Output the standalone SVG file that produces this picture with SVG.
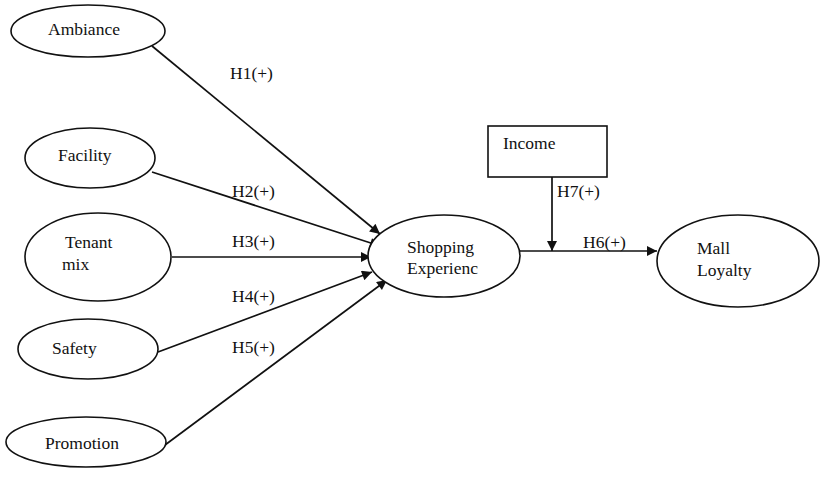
<svg xmlns="http://www.w3.org/2000/svg" width="820" height="477" viewBox="0 0 820 477">
<defs>
<marker id="ah" viewBox="0 0 10 10" refX="10" refY="5" markerWidth="12" markerHeight="10" markerUnits="userSpaceOnUse" orient="auto">
<path d="M0,0 L10,5 L0,10 z" fill="#111"/>
</marker>
<style>
.n{fill:#fff;stroke:#111;stroke-width:1.6}
.t{font-family:"Liberation Serif","Times New Roman",serif;font-size:17.5px;fill:#111}
.c{stroke:#111;stroke-width:1.7;fill:none}
.a{marker-end:url(#ah)}
</style>
</defs>
<rect width="820" height="477" fill="#fff"/>
<g id="connectors">
<line class="c a" x1="152" y1="46" x2="380" y2="234"/>
<line class="c a" x1="152" y1="172" x2="380" y2="246"/>
<line class="c a" x1="172" y1="257" x2="371" y2="257"/>
<line class="c a" x1="158" y1="352" x2="372" y2="272"/>
<line class="c a" x1="165" y1="445" x2="387" y2="280"/>
<line class="c a" x1="520" y1="251" x2="657" y2="251"/>
<line class="c a" x1="552" y1="177" x2="552" y2="251"/>
<text class="t" x="230" y="79">H1(+)</text>
<text class="t" x="232" y="197">H2(+)</text>
<text class="t" x="232" y="247">H3(+)</text>
<text class="t" x="232" y="302">H4(+)</text>
<text class="t" x="232" y="353">H5(+)</text>
<text class="t" x="557" y="197">H7(+)</text>
<text class="t" x="583" y="248">H6(+)</text>
</g>
<g id="ambiance"><ellipse class="n" cx="88" cy="31" rx="77" ry="26"/><text class="t" x="48" y="35">Ambiance</text></g>
<g id="facility"><ellipse class="n" cx="90" cy="158" rx="65" ry="30"/><text class="t" x="58" y="161">Facility</text></g>
<g id="tenant"><ellipse class="n" cx="98" cy="257" rx="73" ry="44"/><text class="t" x="65" y="248">Tenant</text><text class="t" x="62" y="270">mix</text></g>
<g id="safety"><ellipse class="n" cx="88" cy="349" rx="70" ry="30"/><text class="t" x="52" y="354">Safety</text></g>
<g id="promotion"><ellipse class="n" cx="86" cy="442" rx="80" ry="25"/><text class="t" x="45" y="449">Promotion</text></g>
<g id="shopping"><ellipse class="n" cx="444" cy="256" rx="76" ry="41"/><text class="t" x="407" y="253">Shopping</text><text class="t" x="407" y="274">Experienc</text></g>
<g id="income"><rect class="n" x="488" y="126" width="119" height="51"/><text class="t" x="503" y="149">Income</text></g>
<g id="loyalty"><ellipse class="n" cx="738" cy="261" rx="81" ry="46"/><text class="t" x="697" y="254">Mall</text><text class="t" x="697" y="276">Loyalty</text></g>
</svg>
